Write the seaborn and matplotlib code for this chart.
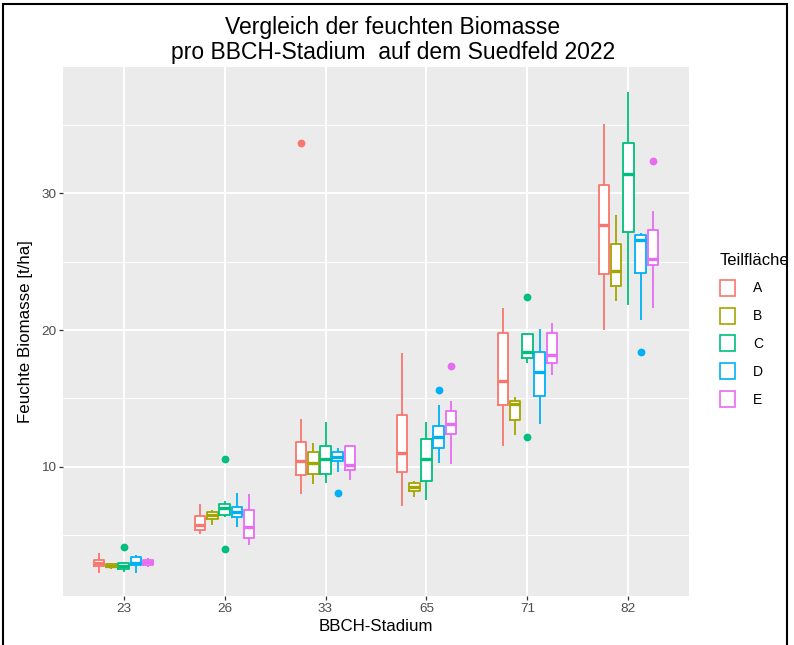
import numpy as np
import pandas as pd
import matplotlib
matplotlib.use("Agg")
import matplotlib.pyplot as plt
from matplotlib.patches import Patch, Rectangle
from matplotlib.ticker import MultipleLocator
import seaborn as sns

stages = ["23", "26", "33", "65", "71", "82"]
areas = ["A", "B", "C", "D", "E"]
colors = ["#F8766D", "#A3A500", "#00BF7D", "#00B0F6", "#E76BF3"]

# box statistics: one row per BBCH stage, columns A..E
whisker_lo = [[2.2, 2.5, 2.3, 2.2, 2.68],
              [5.1, 5.7, 6.35, 5.6, 4.27],
              [8.0, 8.7, 8.8, 9.6, 9.0],
              [7.1, 7.8, 7.6, 10.3, 10.2],
              [11.5, 12.3, 17.6, 13.1, 16.7],
              [20.0, 22.1, 21.8, 20.7, 21.6]]
q1 = [[2.74, 2.64, 2.49, 2.79, 2.8],
      [5.4, 6.2, 6.5, 6.3, 4.76],
      [9.4, 9.5, 9.5, 10.4, 9.75],
      [9.6, 8.25, 8.95, 11.4, 12.4],
      [14.5, 13.4, 17.95, 15.2, 17.6],
      [24.1, 23.2, 27.2, 24.2, 24.75]]
median = [[2.98, 2.76, 2.74, 2.98, 3.0],
          [5.7, 6.5, 7.0, 6.7, 5.6],
          [10.4, 10.3, 10.6, 10.7, 10.1],
          [11.0, 8.55, 10.55, 12.2, 13.1],
          [16.3, 14.6, 18.4, 16.9, 18.2],
          [27.7, 24.3, 31.4, 26.6, 25.2]]
q3 = [[3.2, 2.88, 2.93, 3.37, 3.17],
      [6.4, 6.7, 7.3, 7.05, 6.8],
      [11.8, 11.05, 11.5, 11.05, 11.55],
      [13.8, 8.8, 12.0, 13.0, 14.1],
      [19.8, 14.8, 19.7, 18.4, 19.8],
      [30.6, 26.3, 33.7, 26.95, 27.3]]
whisker_hi = [[3.66, 2.93, 3.05, 3.54, 3.3],
              [7.3, 6.8, 7.5, 8.05, 8.0],
              [13.5, 11.7, 13.25, 11.35, 11.6],
              [18.3, 8.95, 13.3, 14.5, 14.8],
              [21.6, 15.1, 19.8, 20.1, 20.5],
              [35.05, 28.4, 37.4, 27.1, 28.7]]
# outliers: (stage, area, value)
outliers = [("23", "C", 4.13),
            ("26", "C", 10.6), ("26", "C", 3.96),
            ("33", "A", 33.7), ("33", "D", 8.1),
            ("65", "D", 15.6), ("65", "E", 17.4),
            ("71", "C", 22.4), ("71", "C", 12.2),
            ("82", "D", 18.4), ("82", "E", 32.4)]

# build a small sample per box that reproduces the read statistics
rows = []
for i, st in enumerate(stages):
    for j, ar in enumerate(areas):
        lo_out = [v for s, a, v in outliers if s == st and a == ar and v < median[i][j]]
        hi_out = [v for s, a, v in outliers if s == st and a == ar and v > median[i][j]]
        vals = [lo_out[0] if lo_out else whisker_lo[i][j], whisker_lo[i][j],
                q1[i][j], q1[i][j], median[i][j], q3[i][j], q3[i][j],
                whisker_hi[i][j], hi_out[0] if hi_out else whisker_hi[i][j]]
        for v in vals:
            rows.append({"BBCH": st, "Teilfläche": ar, "Biomasse": v})
df = pd.DataFrame(rows)

plt.rcParams["font.family"] = ["Liberation Sans", "DejaVu Sans"]

fig = plt.figure(figsize=(7.94, 6.45), dpi=100)
ax = fig.add_axes([63/794, 1 - 596/645, (689 - 63)/794, (596 - 67)/645])
ax.set_facecolor("#EBEBEB")

# white box bodies underneath
sns.boxplot(data=df, x="BBCH", y="Biomasse", hue="Teilfläche", order=stages,
            hue_order=areas, palette=["white"]*5, width=0.6, gap=0.15,
            linewidth=0, showfliers=False, showcaps=False, legend=False, ax=ax)
# coloured outlines on top
sns.boxplot(data=df, x="BBCH", y="Biomasse", hue="Teilfläche", order=stages,
            hue_order=areas, palette=colors, fill=False, width=0.6, gap=0.15,
            linewidth=1.3, showcaps=False,
            flierprops=dict(marker="o", markersize=4.6),
            medianprops=dict(linewidth=2.4), legend=False, ax=ax)
for ln in ax.lines:
    if ln.get_marker() == "o":
        ln.set_markerfacecolor(ln.get_markeredgecolor())

ax.set_xlim(-0.6, 5.6)
ax.set_ylim(0.54, 39.25)
ax.yaxis.set_major_locator(MultipleLocator(10))
ax.yaxis.set_minor_locator(MultipleLocator(5))
ax.set_axisbelow(True)
ax.grid(which="major", color="white", linewidth=1.4)
ax.grid(which="minor", axis="y", color="white", linewidth=0.7)
ax.grid(which="minor", axis="x", visible=False)
for sp in ax.spines.values():
    sp.set_visible(False)
ax.tick_params(which="major", length=3, width=0.9, color="#333333",
               labelcolor="#4D4D4D", labelsize=9.7, pad=2)
ax.tick_params(which="minor", length=0)

ax.set_xlabel("BBCH-Stadium", fontsize=12.2, labelpad=3)
ax.set_ylabel("Feuchte Biomasse [t/ha]", fontsize=12.2, labelpad=6)

fig.text(393/794, 1 - 40/645,
         "Vergleich der feuchten Biomasse\npro BBCH-Stadium  auf dem Suedfeld 2022",
         ha="center", va="center", fontsize=16.5, linespacing=1.15)

handles = [Patch(facecolor="white", edgecolor=c, linewidth=1.2) for c in colors]
leg = fig.legend(handles, areas, title="Teilfläche", loc="upper left",
                 bbox_to_anchor=(713/794, 1 - 246/645), frameon=False,
                 fontsize=10, title_fontsize=12, handlelength=1.1,
                 handleheight=1.4, labelspacing=0.85, handletextpad=1.3,
                 borderpad=0, alignment="left")

fig.patches.append(Rectangle((3/794, -0.05), 784/794, 1.05 - 4/645,
                             transform=fig.transFigure, fill=False,
                             edgecolor="black", linewidth=1.5))

fig.savefig("out.png", dpi=100)
